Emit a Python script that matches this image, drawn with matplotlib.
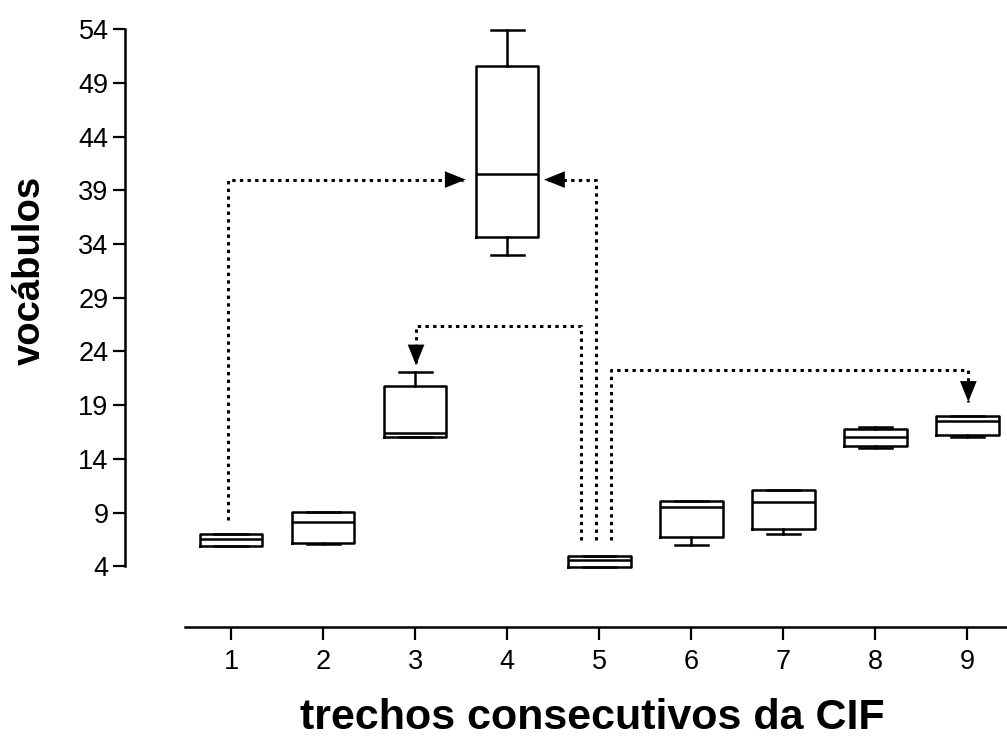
import matplotlib.pyplot as plt

plt.rcParams['font.family'] = ['Liberation Sans', 'DejaVu Sans']

# box statistics (vocábulos per trecho)
trechos = [1, 2, 3, 4, 5, 6, 7, 8, 9]
whis_lo = [5.9, 6.05, 16.0, 33.0, 3.95, 5.95, 6.98, 14.99, 16.0]
q1 = [5.9, 6.2, 16.0, 34.7, 3.95, 6.7, 7.45, 15.2, 16.2]
median = [6.5, 8.1, 16.4, 40.5, 4.55, 9.5, 9.95, 16.0, 17.5]
q3 = [7.05, 9.05, 20.8, 50.6, 5.0, 10.05, 11.1, 16.75, 17.95]
whis_hi = [7.05, 9.05, 22.05, 53.9, 5.0, 10.05, 11.1, 16.95, 17.95]

y_ticks = [4, 9, 14, 19, 24, 29, 34, 39, 44, 49, 54]

# dotted connectors (x path, y path) ending in an arrow head
conn_x = [[0.97, 0.97, 3.55],
          [4.96, 4.96, 4.40],
          [4.80, 4.80, 3.01, 3.01],
          [5.13, 5.13, 9.01, 9.01]]
conn_y = [[8.3, 40.0, 40.0],
          [6.4, 40.0, 40.0],
          [6.4, 26.4, 26.4, 22.7],
          [6.4, 22.25, 22.25, 19.3]]

fig = plt.figure(figsize=(10.07, 7.42), dpi=100)
ax = fig.add_axes([185 / 1007, 1 - 577 / 742, 822 / 1007, 558.5 / 742])

stats = []
for i in range(len(trechos)):
    stats.append(dict(whislo=whis_lo[i], q1=q1[i], med=median[i],
                      q3=q3[i], whishi=whis_hi[i], fliers=[]))

lw = 1.8
ax.bxp(stats, positions=trechos, widths=0.68, capwidths=0.36,
       showfliers=False, patch_artist=False,
       boxprops=dict(color='black', linewidth=lw),
       medianprops=dict(color='black', linewidth=lw),
       whiskerprops=dict(color='black', linewidth=lw),
       capprops=dict(color='black', linewidth=lw))

head = 15  # points
for xs, ys in zip(conn_x, conn_y):
    dx = xs[-1] - xs[-2]
    dy = ys[-1] - ys[-2]
    if dx > 0:
        off = (-head, 0)
    elif dx < 0:
        off = (head, 0)
    elif dy < 0:
        off = (0, head)
    else:
        off = (0, -head)
    # stop the dots at the base of the head
    tip = ax.transData.transform((xs[-1], ys[-1]))
    base = ax.transData.inverted().transform(
        (tip[0] + off[0] * 100 / 72, tip[1] + off[1] * 100 / 72))
    px = xs[:-1] + [base[0]]
    py = ys[:-1] + [base[1]]
    ax.plot(px, py, color='black', linewidth=2.2, linestyle=(0, (1.1, 1.4)),
            dash_capstyle='butt', clip_on=False)
    ax.annotate('', xy=(xs[-1], ys[-1]), xytext=off, textcoords='offset points',
                arrowprops=dict(arrowstyle='-|>,head_length=1.5,head_width=0.6',
                                mutation_scale=10, facecolor='black',
                                edgecolor='none', lw=0,
                                shrinkA=0, shrinkB=0))

ax.set_xlim(0.5, 9.43)
ax.set_ylim(3, 55)
ax.set_xticks(trechos)
ax.set_xticklabels([str(t) for t in trechos])
ax.set_yticks(y_ticks)

ax.spines['top'].set_visible(False)
ax.spines['right'].set_visible(False)
ax.spines['left'].set_position(('outward', 43))
ax.spines['left'].set_bounds(4, 54)
ax.spines['bottom'].set_position(('outward', 36))
for s in ('left', 'bottom'):
    ax.spines[s].set_linewidth(1.8)

ax.tick_params(axis='both', direction='out', width=1.6, length=9,
               labelsize=19.5)
ax.tick_params(axis='y', pad=3)
ax.tick_params(axis='x', pad=7)

fig.text(30 / 1007, 1 - 270 / 742, 'vocábulos', rotation=90, ha='center',
         va='center', fontsize=27.5, fontweight='bold')
fig.text(592 / 1007, 1 - 718 / 742, 'trechos consecutivos da CIF',
         ha='center', va='center', fontsize=31, fontweight='bold')

fig.savefig('out.png', dpi=100)
